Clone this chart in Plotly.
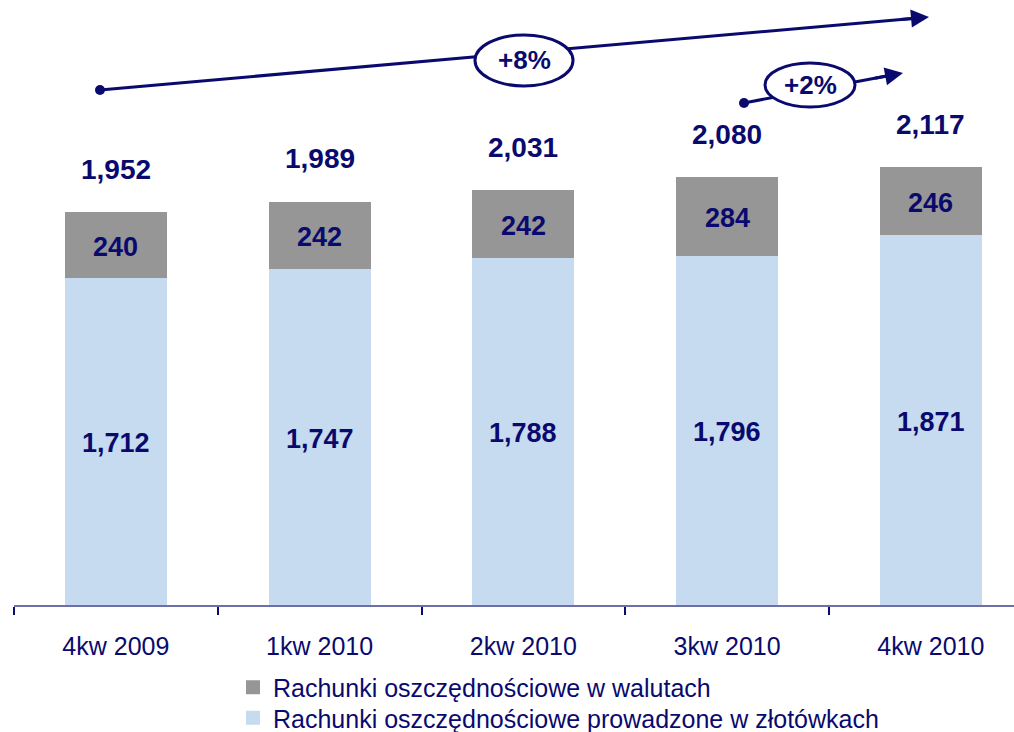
import plotly.graph_objects as go

categories = ["4kw 2009", "1kw 2010", "2kw 2010", "3kw 2010", "4kw 2010"]
pln_values = [1712, 1747, 1788, 1796, 1871]
fx_values = [240, 242, 242, 284, 246]
totals = [1952, 1989, 2031, 2080, 2117]
growth_labels = ["+8%", "+2%"]

NAVY = "#0a0a6e"
GRAY = "#969696"
LIGHT = "#C6DBEF"
FONT = "Arial, Liberation Sans, sans-serif"

REF_H = 732
H = 741                     # rendered page height (screenshot is rescaled to 732)
K = H / REF_H


def ry(y):
    """reference-image y pixel -> page y pixel"""
    return y * K


W = 1014
ML, MR, MT = 14, 0, 0
AXIS_Y = ry(605.5)
PW = W - ML - MR
PH = AXIS_Y - MT
MB = H - MT - PH
SCALE = 0.2708 * K          # px per unit
Y_MIN = 501.5
Y_MAX = Y_MIN + PH / SCALE
CAT_W = 203.75
LW = 2                      # bar outline (same colour as fill)


def px(x):
    return (x - ML) / PW


def py(y):
    return (AXIS_Y - ry(y)) / PH


fig = go.Figure()
fig.add_trace(go.Bar(
    x=categories, y=pln_values, name="Rachunki oszczędnościowe prowadzone w złotówkach",
    marker=dict(color=LIGHT, line=dict(width=LW, color=LIGHT)), hoverinfo="skip", legend="legend2"))
fig.add_trace(go.Bar(
    x=categories, y=fx_values, name="Rachunki oszczędnościowe w walutach",
    marker=dict(color=GRAY, line=dict(width=LW, color=GRAY)), hoverinfo="skip", legend="legend"))

annotations = []
for c, p, f, t in zip(categories, pln_values, fx_values, totals):
    annotations.append(dict(x=c, y=(max(Y_MIN, 0) + p) / 2, text=f"<b>{p:,}</b>", showarrow=False,
                            yshift=-2, font=dict(family=FONT, size=27, color=NAVY), xref="x", yref="y"))
    annotations.append(dict(x=c, y=p + f / 2, text=f"<b>{f:,}</b>", showarrow=False,
                            yshift=-2, font=dict(family=FONT, size=27, color=NAVY), xref="x", yref="y"))
    annotations.append(dict(x=c, y=t, text=f"<b>{t:,}</b>", showarrow=False, yshift=43 * K,
                            font=dict(family=FONT, size=28, color=NAVY), xref="x", yref="y"))

shapes = []
arrows = [
    dict(tail=(100, 90), tip=(929, 17), ell=(475, 35, 573, 86), label=growth_labels[0]),
    dict(tail=(744, 103), tip=(903, 73), ell=(765, 63, 855, 107), label=growth_labels[1]),
]
for a in arrows:
    (x0, y0), (x1, y1) = a["tail"], a["tip"]
    shapes.append(dict(type="line", xref="paper", yref="paper", x0=px(x0), y0=py(y0),
                       x1=px(x1 - (x1 - x0) * 0.02), y1=py(y1 - (y1 - y0) * 0.02),
                       line=dict(color=NAVY, width=3)))
    shapes.append(dict(type="circle", xref="paper", yref="paper", x0=px(x0 - 5), x1=px(x0 + 5),
                       y0=py(y0 + 5), y1=py(y0 - 5), fillcolor=NAVY, line=dict(color=NAVY, width=0)))
    ex0, ey0, ex1, ey1 = a["ell"]
    shapes.append(dict(type="circle", xref="paper", yref="paper", x0=px(ex0), x1=px(ex1),
                       y0=py(ey1), y1=py(ey0), fillcolor="white", line=dict(color=NAVY, width=3)))
    annotations.append(dict(xref="paper", yref="paper", x=px((ex0 + ex1) / 2), y=py((ey0 + ey1) / 2),
                            xanchor="center", yanchor="middle",
                            text=f"<b>{a['label']}</b>", showarrow=False,
                            font=dict(family=FONT, size=26, color=NAVY)))
    dx, dy = x1 - x0, (y1 - y0) * K
    L = (dx ** 2 + dy ** 2) ** 0.5
    annotations.append(dict(xref="paper", yref="paper", x=px(x1), y=py(y1), text="",
                            showarrow=True, arrowhead=2, arrowsize=1.2, arrowwidth=3,
                            arrowcolor=NAVY, standoff=0, startstandoff=0,
                            axref="pixel", ayref="pixel", ax=-dx / L * 30, ay=-dy / L * 30))

legend_common = dict(xref="paper", yref="paper", xanchor="left", yanchor="top",
                     font=dict(family=FONT, size=25, color=NAVY),
                     bgcolor="rgba(0,0,0,0)", itemclick=False, itemdoubleclick=False)

fig.update_layout(
    width=W, height=H,
    margin=dict(l=ML, r=MR, t=MT, b=MB, pad=0),
    plot_bgcolor="white", paper_bgcolor="white",
    barmode="stack", bargap=1 - (102 - LW) / CAT_W,
    showlegend=True,
    legend=dict(x=px(233), y=py(665), **legend_common),
    legend2=dict(x=px(233), y=py(696), **legend_common),
    xaxis=dict(range=[-0.5, -0.5 + PW / CAT_W], showgrid=False, zeroline=False,
               showline=True, linecolor="#6d70a8", linewidth=2,
               ticks="outside", tickson="boundaries", ticklen=8, tickwidth=2, tickcolor=NAVY,
               tickfont=dict(family=FONT, size=25, color=NAVY), ticklabelstandoff=int(round(18 * K))),
    yaxis=dict(range=[Y_MIN, Y_MAX], visible=False, showgrid=False, zeroline=False),
    annotations=annotations, shapes=shapes,
)

page_css = (
    "var d=document.documentElement,b=document.body;"
    "[d,b].forEach(function(e){e.style.margin='0';e.style.padding='0';"
    "e.style.overflow='hidden';e.style.width='%dpx';e.style.height='%dpx';});"
    "var g=document.querySelector('.plotly-graph-div');"
    "g.style.position='absolute';g.style.left='0';g.style.top='0';" % (W, H)
)

fig.write_html("out.html", config={"displayModeBar": False}, post_script=page_css)
